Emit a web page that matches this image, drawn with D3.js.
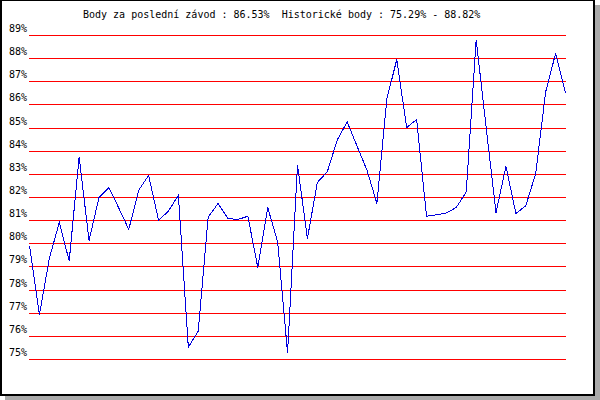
<!DOCTYPE html>
<html>
<head>
<meta charset="utf-8">
<script src="https://cdn.jsdelivr.net/npm/d3@7/dist/d3.min.js"></script>
<style>
html,body{margin:0;padding:0;background:#fff;}
svg{display:block;}
text{font-family:"DejaVu Sans Mono",monospace;font-size:10px;fill:#000;white-space:pre;}
</style>
</head>
<body>
<svg id="chart" width="600" height="400"></svg>
<script>
const titleText = "Body za poslední závod : 86.53%  Historické body : 75.29% - 88.82%";
const yTicks = [75,76,77,78,79,80,81,82,83,84,85,86,87,88,89];
const yTickLabels = yTicks.map(v => v + "%");
const scores = [
  79.91, 76.94, 79.37, 80.92, 79.26, 83.75, 80.14, 82.00, 82.43, 81.54,
  80.62, 82.31, 82.96, 81.02, 81.41, 82.10, 75.53, 76.23, 81.16, 81.74,
  81.09, 81.05, 81.19, 78.97, 81.57, 80.08, 75.29, 83.40, 80.23, 82.65,
  83.11, 84.48, 85.27, 84.22, 83.18, 81.74, 86.25, 87.96, 85.02, 85.37,
  81.19, 81.25, 81.33, 81.57, 82.24, 88.82, 85.05, 81.35, 83.35, 81.31,
  81.64, 83.04, 86.56, 88.22, 86.53
];

const svg = d3.select("#chart");

// shadow + frame
svg.append("rect").attr("x",5).attr("y",5).attr("width",595).attr("height",395).attr("fill","#aaaaaa");
svg.append("rect").attr("x",0).attr("y",0).attr("width",595).attr("height",396).attr("fill","#ffffff");
svg.append("rect").attr("x",0).attr("y",0).attr("width",2).attr("height",396).attr("fill","#000");
svg.append("rect").attr("x",0).attr("y",0).attr("width",595).attr("height",1).attr("fill","#000");
svg.append("rect").attr("x",593).attr("y",0).attr("width",2).attr("height",396).attr("fill","#000");
svg.append("rect").attr("x",0).attr("y",394).attr("width",595).attr("height",2).attr("fill","#000");

const x = d3.scaleLinear().domain([0, scores.length - 1]).range([29.5, 565.5]);
const y = d3.scaleLinear().domain([75, 89]).range([359, 35]);

// gridlines
svg.append("g").selectAll("line").data(yTicks).join("line")
  .attr("x1", 29).attr("x2", 566)
  .attr("y1", d => Math.round(y(d)) + 0.5)
  .attr("y2", d => Math.round(y(d)) + 0.5)
  .attr("stroke", "#ff0000").attr("stroke-width", 1)
  .attr("shape-rendering", "crispEdges");

// labels
svg.append("g").selectAll("text").data(yTicks).join("text")
  .attr("x", 27)
  .attr("y", d => Math.round(y(d)) - 3)
  .attr("text-anchor", "end")
  .text((d, i) => yTickLabels[i]);

// title
svg.append("text").attr("x", 83).attr("y", 18)
  .attr("xml:space", "preserve")
  .text(titleText);

// data line
const line = d3.line().x((d, i) => x(i)).y(d => y(d) + 0.5);
svg.append("path").datum(scores)
  .attr("d", line)
  .attr("fill", "none")
  .attr("stroke", "#0000dd")
  .attr("stroke-width", 1)
  .attr("shape-rendering", "crispEdges");
</script>
</body>
</html>
